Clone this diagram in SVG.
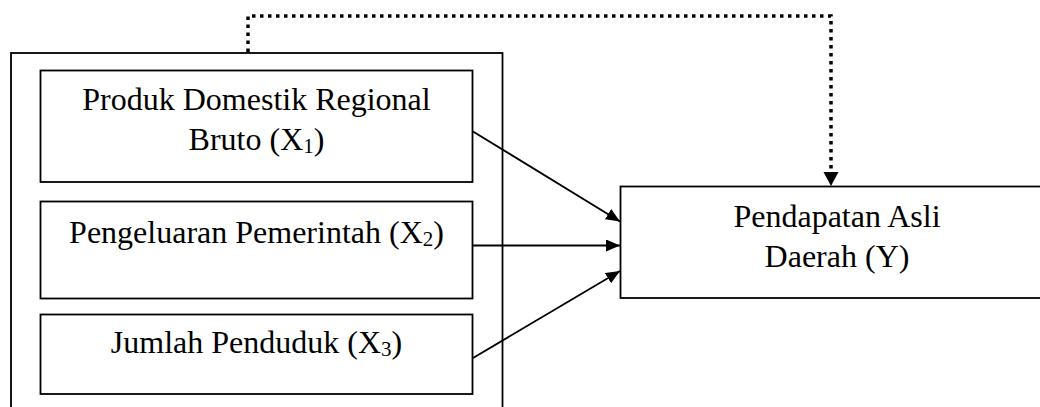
<svg xmlns="http://www.w3.org/2000/svg" width="1040" height="407" viewBox="0 0 1040 407">
<style>
.box{fill:#fff;stroke:#000;stroke-width:1.8}
.t{font-family:"Liberation Serif","Times New Roman",serif;font-size:32px;fill:#000;text-anchor:middle}
.sub{font-size:21px}
.ln{fill:none;stroke:#000;stroke-width:1.8}
.dot{fill:none;stroke:#000;stroke-width:3.5;stroke-dasharray:3.5 4.5}
</style>
<defs>
<marker id="ah" viewBox="0 0 14 12" refX="14" refY="6" markerWidth="14" markerHeight="12" markerUnits="userSpaceOnUse" orient="auto">
<path d="M0,0 L14,6 L0,12 Z" fill="#000"/>
</marker>
</defs>
<g id="group-x">
<rect class="box" x="11" y="53" width="491.5" height="370"/>
</g>
<g id="x1">
<rect class="box" x="40.5" y="70.5" width="432" height="111.5"/>
<text class="t" x="256.5" y="110">Produk Domestik Regional</text>
<text class="t" x="256.5" y="150">Bruto (X<tspan class="sub" dy="3">1</tspan><tspan dy="-3">)</tspan></text>
</g>
<g id="x2">
<rect class="box" x="40.5" y="201.5" width="432" height="97"/>
<text class="t" x="256.5" y="243">Pengeluaran Pemerintah (X<tspan class="sub" dy="3">2</tspan><tspan dy="-3">)</tspan></text>
</g>
<g id="x3">
<rect class="box" x="40.5" y="314.5" width="432" height="79.5"/>
<text class="t" x="256.5" y="353">Jumlah Penduduk (X<tspan class="sub" dy="3">3</tspan><tspan dy="-3">)</tspan></text>
</g>
<g id="y">
<rect class="box" x="620.5" y="186.5" width="430" height="111.5"/>
<text class="t" x="837" y="227">Pendapatan Asli</text>
<text class="t" x="837" y="267">Daerah (Y)</text>
</g>
<g id="connectors">
<line class="ln" x1="473" y1="131.5" x2="620" y2="221.5" marker-end="url(#ah)"/>
<line class="ln" x1="473" y1="245.5" x2="620" y2="245.5" marker-end="url(#ah)"/>
<line class="ln" x1="473" y1="358" x2="620" y2="271" marker-end="url(#ah)"/>
<path class="dot" d="M248,52 V16 H831 V172"/>
<path d="M823.5,172 L838.5,172 L831,186 Z" fill="#000"/>
</g>
</svg>
